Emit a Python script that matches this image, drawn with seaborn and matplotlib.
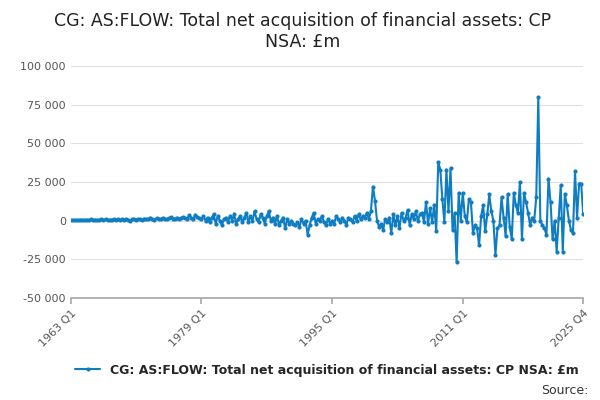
import matplotlib
matplotlib.use("Agg")
import matplotlib.pyplot as plt
import seaborn as sns
import pandas as pd
import numpy as np

title = "CG: AS:FLOW: Total net acquisition of financial assets: CP\nNSA: £m"
series_name = "CG: AS:FLOW: Total net acquisition of financial assets: CP NSA: £m"

vals_1963_1978 = [0.3,0.5,0.2,0.6, 0.4,0.7,0.3,0.5, 0.6,0.4,0.8,0.5, 0.7,0.3,0.6,0.9,
                  0.5,0.8,0.4,0.7, 0.6,1.0,0.5,0.8, 0.3,0.9,0.6,1.1, 0.7,-0.2,0.8,1.0,
                  0.6,1.2,0.9,0.7, 1.4,0.8,1.1,2.0, 1.0,0.6,1.5,1.2, 0.9,1.8,1.3,1.0,
                  1.6,2.2,1.1,1.4, 2.0,1.2,1.7,2.4, 1.5,1.1,3.5,2.0, 1.2,3.8,2.5,1.6]
vals_1979_1994 = [1,3,0,2, -1,2,4,-2, 3,0,-3,1, 2,-1,3,0,
                  4,-2,1,3, -1,2,5,-1, 3,0,6,1, -1,4,2,-2,
                  3,6,0,2, -2,3,-3,0, 2,-5,1,-2, 0,-2,-3,-1,
                  -4,1,-2,0, -9,-3,2,5, -2,1,0,3, -1,-3,1,-2]
vals_1995_2007 = [0,-2,3,1, -1,2,0,-3, 2,1,-1,3, 0,4,1,3, 2,5,1,6,
                  22,13,0,-4, -2,-6,1,-1, 2,-8,4,-3, 3,-5,5,0, 2,7,-3,4,
                  1,6,0,4, 5,-1,12,-2, 8,-1,10,-7]
vals_2008_2025 = [38,33,14,-1, 33,6,34,-6, 5,-27,18,0, 18,3,-1,14, 12,-8,-3,-5,
                  -16,3,10,-7, 4,17,6,0, -22,-5,-3,15, 2,-10,17,-4, -12,18,10,5,
                  25,-12,18,12, 5,-3,2,0, 15,80,0,-3, -5,-9,27,12, -12,0,-20,2,
                  23,-20,17,10, 0,-6,-8,32, 2,24,24,4]
tick_labels = ["1963 Q1", "1979 Q1", "1995 Q1", "2011 Q1", "2025 Q4"]
tick_pos = [0, 64, 128, 192, 251]

values = np.array(vals_1963_1978 + vals_1979_1994 + vals_1995_2007 + vals_2008_2025) * 1000
df = pd.DataFrame({"q": np.arange(len(values)), "v": values})

sns.set_theme(style="white")
plt.rcParams['font.family'] = ['DejaVu Sans']
fig, ax = plt.subplots(figsize=(6, 4), dpi=100)
fig.subplots_adjust(left=0.118, right=0.972, top=0.835, bottom=0.255)
color = "#0f7dc2"
sns.lineplot(data=df, x="q", y="v", ax=ax, color=color, lw=1.5, marker="o",
             markersize=3, markeredgewidth=0, label=series_name)
ax.set_xlim(0, 251)
ax.set_ylim(-50000, 100000)
ax.set_yticks(range(-50000, 100001, 25000))
ax.set_yticklabels([f"{t:,}".replace(",", " ") for t in range(-50000, 100001, 25000)],
                   fontsize=8, color="#555555")
ax.set_xticks(tick_pos)
ax.set_xticklabels(tick_labels, rotation=45, ha="right", rotation_mode="anchor",
                   fontsize=8, color="#555555")
ax.grid(axis="y", color="#e0e0e0", lw=0.8)
for s in ["top", "right", "left"]:
    ax.spines[s].set_visible(False)
ax.spines["bottom"].set_color("#aaaaaa")
ax.tick_params(axis="x", length=4, color="#aaaaaa", bottom=True)
ax.tick_params(axis="y", length=0)
ax.set_xlabel("")
ax.set_ylabel("")
fig.suptitle(title, fontsize=12.5, color="#222222", x=0.505, y=0.97)
ax.legend(loc="upper center", bbox_to_anchor=(0.5, -0.235), frameon=False,
          fontsize=9, handlelength=2, prop={"weight": "semibold", "size": 9})
fig.text(0.98, 0.015, "Source:", ha="right", fontsize=9, color="#333333")
fig.savefig("out.png")
